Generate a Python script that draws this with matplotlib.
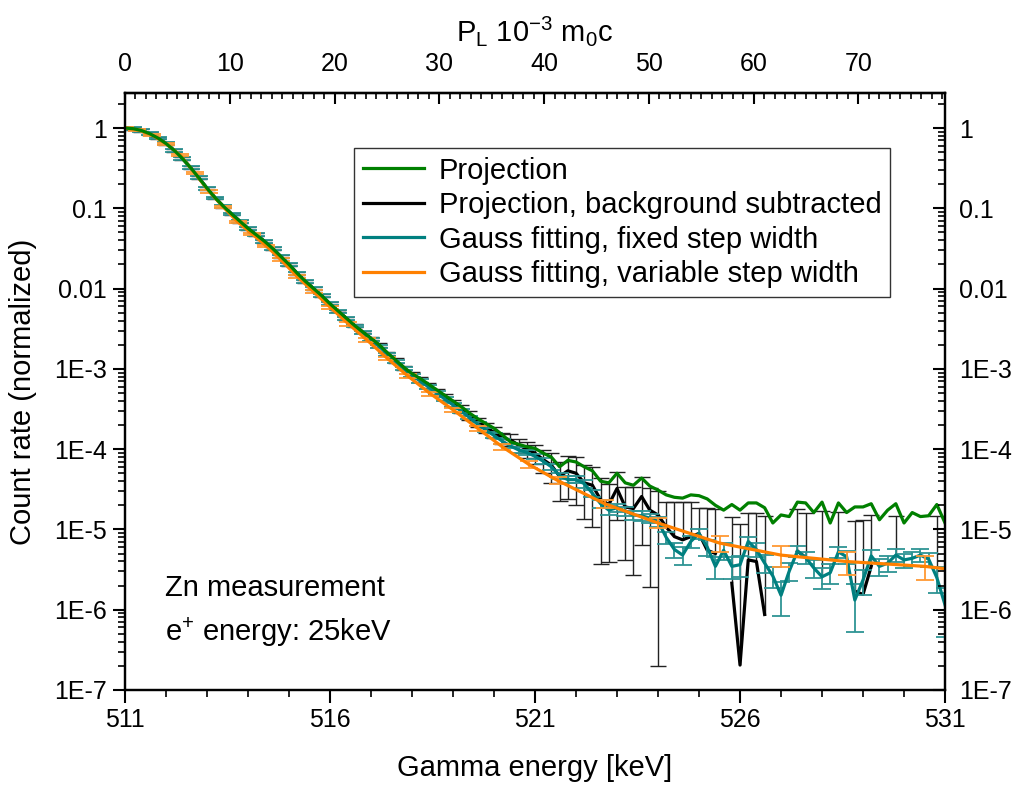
import numpy as np
import matplotlib
matplotlib.use("Agg")
from matplotlib import pyplot as plt
from matplotlib.ticker import FixedLocator, FuncFormatter, LogLocator, NullFormatter, MultipleLocator

plt.rcParams['font.family'] = ['Liberation Sans', 'DejaVu Sans']
plt.rcParams['mathtext.fontset'] = 'custom'
plt.rcParams['mathtext.rm'] = 'Liberation Sans'
plt.rcParams['mathtext.default'] = 'regular'

# gamma energy bins [keV], 0.2 keV step from 511 to 531
energy = np.linspace(511, 531, 101)

# log10 of normalized count rate
projection_log = [
    0.000, -0.008, -0.031, -0.070, -0.124, -0.193, -0.278, -0.379, -0.494, -0.620,
    -0.750, -0.870, -0.975, -1.070, -1.160, -1.250, -1.330, -1.410, -1.500, -1.600,
    -1.700, -1.810, -1.910, -2.000, -2.090, -2.190, -2.280, -2.370, -2.460, -2.540,
    -2.620, -2.700, -2.800, -2.890, -2.980, -3.060, -3.120, -3.190, -3.260, -3.330,
    -3.400, -3.470, -3.550, -3.620, -3.680, -3.740, -3.820, -3.910, -3.940, -3.970,
    -3.990, -4.050, -4.100, -4.220, -4.140, -4.160, -4.220, -4.270, -4.400, -4.420,
    -4.300, -4.420, -4.450, -4.360, -4.460, -4.510, -4.570, -4.600, -4.610, -4.570,
    -4.580, -4.620, -4.700, -4.760, -4.690, -4.760, -4.670, -4.670, -4.730, -4.920,
    -4.820, -4.840, -4.660, -4.670, -4.790, -4.660, -4.920, -4.670, -4.790, -4.720,
    -4.720, -4.680, -4.880, -4.760, -4.680, -4.920, -4.790, -4.840, -4.830, -4.690,
    -4.920]

nan = float('nan')
bg_sub_log = [
    0.000, -0.008, -0.031, -0.070, -0.124, -0.193, -0.278, -0.379, -0.494, -0.620,
    -0.750, -0.870, -0.975, -1.070, -1.160, -1.250, -1.330, -1.410, -1.500, -1.600,
    -1.700, -1.810, -1.910, -2.000, -2.090, -2.190, -2.280, -2.370, -2.460, -2.540,
    -2.620, -2.705, -2.805, -2.895, -2.985, -3.070, -3.135, -3.205, -3.280, -3.350,
    -3.425, -3.500, -3.580, -3.660, -3.730, -3.790, -3.860, -3.885, -3.950, -4.000,
    -4.050, -4.130, -4.200, -4.340, -4.270, -4.300, -4.420, -4.450, -4.630, -4.690,
    -4.490, -4.720, -4.740, -4.590, -4.760, -4.820, -4.970, -5.090, -5.130, -5.090,
    -5.050, -5.260, -5.300, nan, -5.670, -6.690, -5.380, -5.400, -6.060, nan,
    nan, nan, -5.270, -5.350, nan, -5.590, nan, -5.280, nan, -5.770,
    -5.810, -5.460, nan, nan, -5.320, nan, nan, nan, nan, -5.600,
    nan]
bg_sub_relerr = [
    0.04, 0.04, 0.04, 0.04, 0.04, 0.04, 0.04, 0.04, 0.04, 0.04,
    0.04, 0.04, 0.04, 0.04, 0.04, 0.04, 0.04, 0.04, 0.04, 0.04,
    0.04, 0.04, 0.04, 0.04, 0.04, 0.04, 0.04, 0.04, 0.04, 0.04,
    0.04, 0.05, 0.05, 0.06, 0.06, 0.07, 0.07, 0.08, 0.08, 0.09,
    0.10, 0.11, 0.12, 0.13, 0.14, 0.15, 0.15, 0.17, 0.20, 0.23,
    0.27, 0.32, 0.40, 0.50, 0.55, 0.60, 0.65, 0.70, 0.84, 0.81,
    0.60, 0.78, 0.85, 0.75, 0.89, 0.987, 1.05, 1.7, 2.0, 1.7,
    1.1, 2.4, 2.6, nan, 5.6, 56.0, 2.8, 3.0, 16.0, nan,
    nan, nan, 2.3, 2.6, nan, 5.6, nan, 2.1, nan, 6.6,
    7.4, 3.4, nan, nan, 2.1, nan, nan, nan, nan, 4.8,
    nan]

gauss_fixed_log = [
    0.000, -0.008, -0.031, -0.070, -0.124, -0.193, -0.278, -0.379, -0.494, -0.620,
    -0.750, -0.870, -0.975, -1.070, -1.160, -1.250, -1.330, -1.410, -1.500, -1.600,
    -1.700, -1.810, -1.910, -2.000, -2.090, -2.190, -2.285, -2.375, -2.465, -2.550,
    -2.635, -2.720, -2.820, -2.910, -3.000, -3.085, -3.150, -3.225, -3.300, -3.375,
    -3.450, -3.525, -3.605, -3.690, -3.760, -3.830, -3.900, -3.960, -4.010, -4.040,
    -4.090, -4.150, -4.220, -4.330, -4.380, -4.380, -4.430, -4.550, -4.680, -4.760,
    -4.730, -4.770, -4.820, -4.830, -4.860, -4.900, -5.100, -5.250, -5.320, -5.150,
    -5.050, -5.220, -5.460, -5.260, -5.460, -5.440, -5.150, -5.250, -5.420, -5.580,
    -5.820, -5.520, -5.270, -5.350, -5.480, -5.590, -5.540, -5.280, -5.340, -5.880,
    -5.630, -5.330, -5.460, -5.420, -5.320, -5.380, -5.360, -5.320, -5.370, -5.600,
    -5.940]
gauss_fixed_relerr = [
    0.04, 0.04, 0.04, 0.04, 0.04, 0.04, 0.04, 0.04, 0.04, 0.04,
    0.04, 0.04, 0.04, 0.04, 0.04, 0.04, 0.04, 0.04, 0.04, 0.04,
    0.04, 0.04, 0.04, 0.04, 0.04, 0.04, 0.04, 0.04, 0.04, 0.04,
    0.04, 0.04, 0.04, 0.04, 0.045, 0.045, 0.045, 0.045, 0.05, 0.05,
    0.05, 0.05, 0.055, 0.06, 0.06, 0.065, 0.07, 0.07, 0.075, 0.08,
    0.08, 0.08, 0.09, 0.09, 0.10, 0.10, 0.11, 0.11, 0.12, 0.12,
    0.12, 0.13, 0.13, 0.14, 0.14, 0.15, 0.18, 0.22, 0.25, 0.18,
    0.15, 0.22, 0.30, 0.25, 0.30, 0.30, 0.15, 0.20, 0.25, 0.30,
    0.45, 0.25, 0.15, 0.18, 0.25, 0.30, 0.28, 0.15, 0.18, 0.60,
    0.35, 0.18, 0.25, 0.22, 0.18, 0.20, 0.20, 0.18, 0.20, 0.35,
    0.60]

# variable step width: own energy grid
var_energy = [511.0, 511.3, 511.65, 512.0, 512.35, 512.7, 513.05, 513.4, 513.75, 514.1,
              514.45, 514.8, 515.2, 515.6, 516.0, 516.45, 516.9, 517.4, 517.9, 518.45,
              519.0, 519.6, 520.2, 520.85, 521.55, 522.7, 524.0, 525.5, 527.0, 528.6,
              530.5, 531.0]
gauss_var_log = [0.000, -0.020, -0.085, -0.195, -0.340, -0.560, -0.790, -0.985, -1.170, -1.320,
                 -1.470, -1.640, -1.850, -2.040, -2.230, -2.440, -2.640, -2.870, -3.090, -3.310,
                 -3.510, -3.740, -3.970, -4.190, -4.390, -4.680, -4.920, -5.170, -5.320, -5.400,
                 -5.460, -5.490]
gauss_var_relerr = [0.03, 0.03, 0.03, 0.03, 0.03, 0.03, 0.03, 0.03, 0.035, 0.035,
                    0.035, 0.04, 0.04, 0.04, 0.045, 0.045, 0.05, 0.05, 0.055, 0.06,
                    0.06, 0.07, 0.08, 0.09, 0.10, 0.11, 0.14, 0.22, 0.28, 0.33,
                    0.33]

labels = ["Projection", "Projection, background subtracted",
          "Gauss fitting, fixed step width", "Gauss fitting, variable step width"]
ytick_vals = [1e-7, 1e-6, 1e-5, 1e-4, 1e-3, 1e-2, 1e-1, 1]
xtick_vals = [511, 516, 521, 526, 531]

proj = 10 ** np.array(projection_log)
bgs = 10 ** np.array(bg_sub_log)
fixed = 10 ** np.array(gauss_fixed_log)
var_e = np.array(var_energy)
var = 10 ** np.array(gauss_var_log)


def bars(ax, x, y, err, color, lw, cap, z):
    ok = np.isfinite(y) & np.isfinite(err)
    x, y, err = x[ok], y[ok], err[ok]
    lo = y - err
    pos = lo > 0
    bottom = np.where(pos, lo, y)
    ax.vlines(x, bottom, y + err, color=color, lw=lw, zorder=z)
    ax.plot(x, y + err, ls="none", marker="_", ms=cap, mew=lw, color=color, zorder=z)
    ax.plot(x[pos], lo[pos], ls="none", marker="_", ms=cap, mew=lw, color=color, zorder=z)


fig = plt.figure(figsize=(10.13, 7.87), dpi=100)
ax = fig.add_axes([0.1234, 0.1233, 0.8095, 0.7585])
ax.set_yscale("log")

bars(ax, energy, bgs, bgs * np.array(bg_sub_relerr), "#222222", 1.0, 11, 2)
l_bgs, = ax.plot(energy, bgs, color="black", lw=2.3, zorder=3, label=labels[1])
bars(ax, energy, fixed, fixed * np.array(gauss_fixed_relerr), "#2e9494", 1.3, 13, 4)
l_fix, = ax.plot(energy, fixed, color="#008080", lw=2.3, zorder=5, label=labels[2])
bars(ax, var_e[:-1], var[:-1], var[:-1] * np.array(gauss_var_relerr), "#ff9933", 1.3, 13, 6)
l_var, = ax.plot(var_e, var, color="#ff8000", lw=2.3, zorder=7, label=labels[3])
l_proj, = ax.plot(energy, proj, color="#008000", lw=2.3, zorder=8, label=labels[0])

ax.set_xlim(511, 531)
ax.set_ylim(1e-7, 2.73)


def yfmt(v, pos):
    e = int(round(np.log10(v)))
    if e >= -2:
        return {0: "1", -1: "0.1", -2: "0.01"}[e]
    return "1E%d" % e


ax.yaxis.set_major_locator(FixedLocator(ytick_vals))
ax.yaxis.set_major_formatter(FuncFormatter(yfmt))
ax.yaxis.set_minor_locator(LogLocator(base=10, subs=np.arange(2, 10), numticks=20))
ax.yaxis.set_minor_formatter(NullFormatter())
ax.xaxis.set_major_locator(FixedLocator(xtick_vals))
ax.xaxis.set_minor_locator(MultipleLocator(1))
ax.tick_params(which="major", direction="out", length=9, width=1.5, labelsize=18, pad=4,
               top=False, right=False)
ax.tick_params(which="minor", direction="out", length=5, width=1.2, top=False, right=False)
for s in ax.spines.values():
    s.set_linewidth(1.6)

ax2 = ax.twinx()
ax2.set_yscale("log")
ax2.set_ylim(1e-7, 2.73)
ax2.yaxis.set_major_locator(FixedLocator(ytick_vals))
ax2.yaxis.set_major_formatter(FuncFormatter(yfmt))
ax2.yaxis.set_minor_locator(LogLocator(base=10, subs=np.arange(2, 10), numticks=20))
ax2.yaxis.set_minor_formatter(NullFormatter())
ax2.tick_params(which="major", direction="in", length=9, width=1.5, labelsize=18, pad=10)
ax2.tick_params(which="minor", direction="in", length=5, width=1.2)
for s in ax2.spines.values():
    s.set_linewidth(1.6)

secax = ax.secondary_xaxis("top", functions=(lambda e: (e - 511) * 2000 / 511,
                                             lambda p: 511 + p * 511 / 2000))
secax.xaxis.set_major_locator(MultipleLocator(10))
secax.xaxis.set_minor_locator(MultipleLocator(1))
secax.tick_params(which="major", direction="in", length=8, width=1.5, labelsize=18, pad=12)
secax.tick_params(which="minor", direction="in", length=4, width=1.2)
secax.spines["top"].set_linewidth(1.6)
secax.set_xlabel(r"P$_{L}$ 10$^{-3}$ m$_{0}$c", fontsize=21, labelpad=8)

ax.set_xlabel("Gamma energy [keV]", fontsize=21, labelpad=16)
ax.set_ylabel("Count rate (normalized)", fontsize=21, labelpad=12)

ax.text(0.049, 0.171, "Zn measurement", transform=ax.transAxes, fontsize=21, va="center")
ax.text(0.049, 0.097, "e$^{+}$ energy: 25keV", transform=ax.transAxes, fontsize=21, va="center")

leg = ax2.legend([l_proj, l_bgs, l_fix, l_var], labels, loc="upper right",
                 bbox_to_anchor=(0.933, 0.908), bbox_transform=ax.transAxes,
                 fontsize=21, frameon=True, fancybox=False, borderaxespad=0,
                 handlelength=2.1, handletextpad=0.5, labelspacing=0.22, borderpad=0.3)
leg.get_frame().set_edgecolor("black")
leg.get_frame().set_linewidth(1.0)

fig.savefig("out.png", dpi=100)
